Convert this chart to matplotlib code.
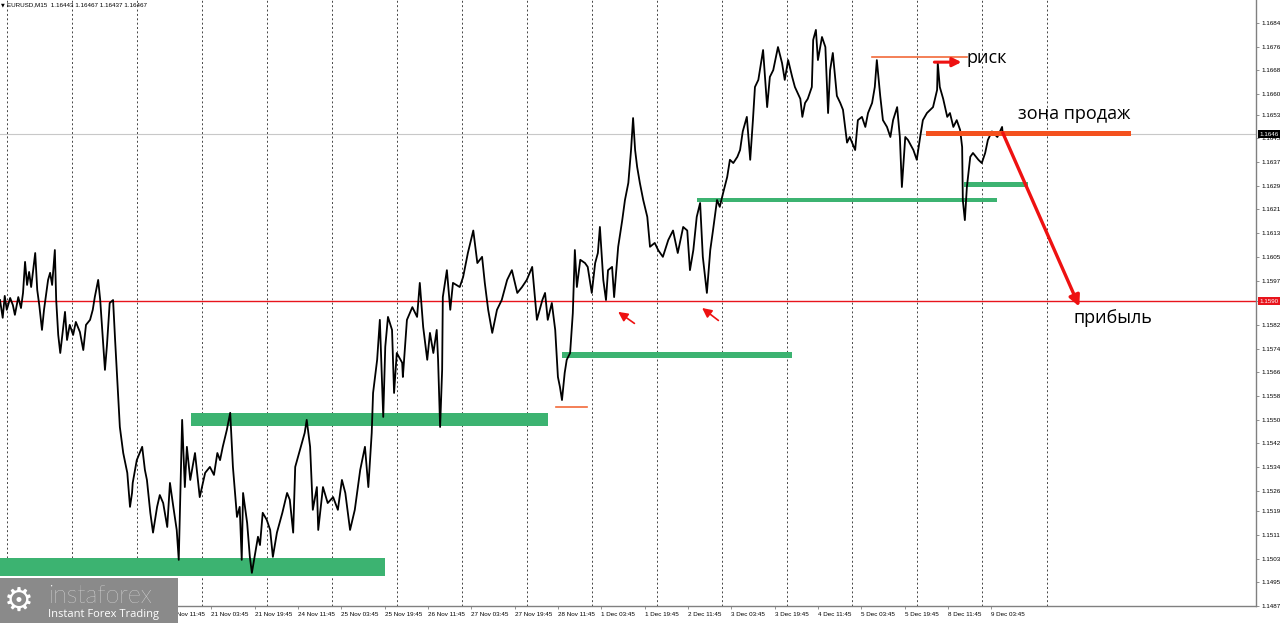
import numpy as np
import matplotlib.pyplot as plt
from matplotlib.patches import Rectangle

# EURUSD M15 close: bar index and price
bars = [0, 4, 7, 10, 15, 19, 22, 27, 31, 34, 37, 40, 43, 46, 49, 52, 55, 58, 62, 65,
        68, 71, 74, 77, 81, 83, 86, 89, 92, 96, 99, 103, 108, 112, 118, 123, 127, 133, 137, 140,
        145, 148, 152, 155, 158, 162, 167, 170, 173, 177, 182, 188, 192, 195, 196, 202, 210, 214, 217, 222,
        226, 232, 236, 241, 247, 251, 256, 261, 264, 269, 273, 276, 281, 288, 295, 303, 310, 316, 321, 325,
        329, 335, 340, 344, 350, 354, 357, 359, 365, 369, 372, 377, 381, 384, 388, 394, 399, 403, 409, 417,
        424, 428, 433, 436, 443, 450, 453, 458, 462, 468, 470, 477, 484, 492, 499, 505, 510, 517, 524, 532,
        539, 544, 549, 551, 557, 561, 566, 569, 573, 579, 582, 586, 594, 595, 601, 609, 616, 620, 625, 631,
        635, 640, 645, 647, 650, 653, 654, 660, 665, 669, 679, 684, 691, 699, 705, 712, 716, 721, 727, 734,
        741, 749, 756, 764, 771, 778, 786, 793, 801, 805, 809, 815, 820, 824, 827, 830, 834, 837, 842, 846,
        849, 852, 857, 864, 868, 874, 879, 883, 886, 891, 895, 898, 904, 907, 913, 919, 923, 928, 932, 935,
        938, 941, 945, 950, 956, 960, 967, 972, 979, 987, 994, 1001, 1009, 1015, 1019, 1024, 1029, 1034, 1038, 1044,
        1049, 1053, 1059, 1063, 1068, 1074, 1078, 1083, 1089, 1093, 1097, 1103, 1108, 1112, 1115, 1120, 1127, 1133, 1137, 1142,
        1149, 1155, 1159, 1164, 1170, 1174, 1182, 1185, 1189, 1193, 1199, 1201, 1205, 1208, 1214, 1219, 1223, 1226, 1230, 1236,
        1241, 1245, 1251, 1255, 1263, 1267, 1273, 1278, 1282, 1288, 1292, 1295, 1300, 1304, 1310, 1315, 1319, 1325, 1329, 1332,
        1337, 1341, 1349, 1354, 1359, 1363, 1369, 1374, 1378, 1384, 1385, 1388, 1393, 1399, 1403, 1408, 1413, 1418, 1421, 1422,
        1425, 1428, 1433, 1437, 1445, 1450, 1455, 1459, 1465, 1473, 1480, 1481]
close = [1.15904, 1.15844, 1.15918, 1.15871, 1.15911, 1.15887, 1.15854, 1.15914, 1.15877, 1.15928,
         1.16033, 1.15955, 1.15999, 1.15948, 1.16005, 1.16063, 1.15938, 1.15887, 1.15803, 1.15871,
         1.15921, 1.15972, 1.15996, 1.15955, 1.16073, 1.15904, 1.15786, 1.15725, 1.15786, 1.15864,
         1.15769, 1.15820, 1.15786, 1.15830, 1.15796, 1.15735, 1.15820, 1.15837, 1.15871, 1.15914,
         1.15972, 1.15904, 1.15769, 1.15668, 1.15752, 1.15894, 1.15904, 1.15769, 1.15644, 1.15475,
         1.15387, 1.15320, 1.15205, 1.15252, 1.15286, 1.15363, 1.15408, 1.15330, 1.15296, 1.15185,
         1.15118, 1.15205, 1.15245, 1.15218, 1.15137, 1.15286, 1.15205, 1.15127, 1.15026, 1.15499,
         1.15272, 1.15408, 1.15296, 1.15387, 1.15238, 1.15320, 1.15340, 1.15313, 1.15387, 1.15363,
         1.15408, 1.15465, 1.15523, 1.15340, 1.15171, 1.15205, 1.15026, 1.15252, 1.15151, 1.15036,
         1.14982, 1.15049, 1.15104, 1.15076, 1.15185, 1.15161, 1.15127, 1.15036, 1.15118, 1.15185,
         1.15252, 1.15229, 1.15118, 1.15340, 1.15398, 1.15455, 1.15499, 1.15408, 1.15195, 1.15272,
         1.15127, 1.15272, 1.15218, 1.15238, 1.15195, 1.15296, 1.15252, 1.15127, 1.15195, 1.15330,
         1.15408, 1.15272, 1.15455, 1.15590, 1.15702, 1.15837, 1.15509, 1.15746, 1.15847, 1.15803,
         1.15590, 1.15725, 1.15692, 1.15644, 1.15837, 1.15880, 1.15847, 1.15962, 1.15813, 1.15702,
         1.15793, 1.15725, 1.15803, 1.15702, 1.15475, 1.15668, 1.15914, 1.16005, 1.15871, 1.15962,
         1.15948, 1.15982, 1.16063, 1.16139, 1.16029, 1.16050, 1.15962, 1.15871, 1.15793, 1.15871,
         1.15904, 1.15972, 1.16005, 1.15928, 1.15948, 1.15972, 1.16016, 1.15837, 1.15904, 1.15928,
         1.15837, 1.15894, 1.15803, 1.15644, 1.15610, 1.15566, 1.15658, 1.15702, 1.15725, 1.15860,
         1.16073, 1.15948, 1.16040, 1.16029, 1.16016, 1.15928, 1.16029, 1.16063, 1.16151, 1.15972,
         1.15904, 1.16005, 1.16016, 1.15914, 1.16084, 1.16174, 1.16242, 1.16300, 1.16411, 1.16519,
         1.16411, 1.16354, 1.16300, 1.16242, 1.16185, 1.16084, 1.16097, 1.16073, 1.16050, 1.16107,
         1.16139, 1.16063, 1.16151, 1.16139, 1.16005, 1.16073, 1.16185, 1.16232, 1.16050, 1.15928,
         1.16073, 1.16139, 1.16242, 1.16219, 1.16266, 1.16320, 1.16378, 1.16367, 1.16388, 1.16411,
         1.16474, 1.16523, 1.16378, 1.16512, 1.16624, 1.16648, 1.16749, 1.16556, 1.16658, 1.16681,
         1.16759, 1.16705, 1.16648, 1.16715, 1.16658, 1.16624, 1.16584, 1.16523, 1.16570, 1.16584,
         1.16624, 1.16783, 1.16817, 1.16715, 1.16793, 1.16759, 1.16536, 1.16681, 1.16739, 1.16594,
         1.16570, 1.16547, 1.16436, 1.16455, 1.16411, 1.16512, 1.16523, 1.16489, 1.16536, 1.16570,
         1.16624, 1.16715, 1.16594, 1.16512, 1.16489, 1.16455, 1.16512, 1.16556, 1.16455, 1.16286,
         1.16455, 1.16445, 1.16411, 1.16378, 1.16455, 1.16512, 1.16536, 1.16547, 1.16556, 1.16614,
         1.16705, 1.16624, 1.16584, 1.16523, 1.16536, 1.16489, 1.16512, 1.16479, 1.16421, 1.16242,
         1.16174, 1.16286, 1.16388, 1.16401, 1.16378, 1.16367, 1.16401, 1.16445, 1.16474, 1.16455,
         1.16489, 1.16465]

# time axis labels (bar index of each label)
time_ticks = [0, 56, 120, 184, 248, 312, 376, 440, 504, 568, 632, 696,
              760, 824, 888, 952, 1016, 1080, 1144, 1208, 1272, 1336, 1400, 1464]
time_labels = ["17 Nov 2025", "18 Nov 11:45", "19 Nov 03:45", "19 Nov 19:45",
               "20 Nov 11:45", "21 Nov 03:45", "21 Nov 19:45", "24 Nov 11:45",
               "25 Nov 03:45", "25 Nov 19:45", "26 Nov 11:45", "27 Nov 03:45",
               "27 Nov 19:45", "28 Nov 11:45", "1 Dec 03:45", "1 Dec 19:45",
               "2 Dec 11:45", "3 Dec 03:45", "3 Dec 19:45", "4 Dec 11:45",
               "5 Dec 03:45", "5 Dec 19:45", "8 Dec 11:45", "9 Dec 03:45"]
day_lines = list(range(10, 1550, 96))

price_labels = ["1.1487", "1.1495", "1.1503", "1.1511", "1.1519", "1.1526", "1.1534",
                "1.1542", "1.1550", "1.1558", "1.1566", "1.1574", "1.1582", "1.1590",
                "1.1597", "1.1605", "1.1613", "1.1621", "1.1629", "1.1637", "1.1645",
                "1.1653", "1.1660", "1.1668", "1.1676", "1.1684"]
price_ticks = [float(s) for s in price_labels]

# support zones: (start bar, end bar, low, high)
zones = [(0, 569, 1.14972, 1.15033),
         (282, 809, 1.15479, 1.15523),
         (830, 1170, 1.15708, 1.15729),
         (1029, 1473, 1.16234, 1.16250),
         (1424, 1518, 1.16286, 1.16303)]
level_red = 1.1590
last_price = 1.16465
risk_level = (1288, 1428, 1.16724)
low_mark = (821, 867, 1.15543)
sell_zone = (1371, 1666, 1.16467)

green = "#3cb371"
orange = "#f4511e"
red = "#ee1111"
tick_font = dict(fontsize=4.5, family="Liberation Sans")

fig = plt.figure(figsize=(12.8, 6.23), dpi=100, facecolor="white")
ax = fig.add_axes([0, 17 / 623, 1256 / 1280, 606 / 623])

for d in day_lines:
    ax.axvline(d, color="#444444", lw=0.7, ls=(0, (2, 2.5)), zorder=1)

ax.axhline(level_red, color="#e8141c", lw=1.0, zorder=2)
ax.axhline(last_price, color="#c8c8c8", lw=0.8, zorder=1)

for x0, x1, lo, hi in zones:
    ax.fill_between([x0, x1], lo, hi, color=green, lw=0, zorder=2)

ax.plot(bars, close, color="black", lw=1.3, zorder=3)

ax.plot(risk_level[:2], [risk_level[2]] * 2, color="#f26a3a", lw=1.2, zorder=4)
ax.plot(low_mark[:2], [low_mark[2]] * 2, color="#f26a3a", lw=1.2, zorder=4)
ax.plot(sell_zone[:2], [sell_zone[2]] * 2, color=orange, lw=3.6, zorder=4)

ax.annotate("", xy=(1420, 1.16708), xytext=(1380, 1.16708),
            arrowprops=dict(arrowstyle="-|>", color=red, lw=2.2, mutation_scale=13,
                            shrinkA=0, shrinkB=0), zorder=5)
ax.annotate("", xy=(1594, 1.15882), xytext=(1481, 1.16469),
            arrowprops=dict(arrowstyle="-|>", color=red, lw=2.4, mutation_scale=16,
                            shrinkA=0, shrinkB=0), zorder=5)
for tip, tail in [((913, 1.15864), (937, 1.15825)), ((1037, 1.15877), (1061, 1.15835))]:
    ax.annotate("", xy=tip, xytext=tail,
                arrowprops=dict(arrowstyle="-|>", color=red, lw=1.2, mutation_scale=14,
                                shrinkA=0, shrinkB=0), zorder=5)

txt = dict(fontsize=13, family="Open Sans", va="center", ha="left", zorder=6)
ax.text(1428, 1.16722, "риск", **txt)
ax.text(1504, 1.16533, "зона продаж", **txt)
ax.text(1585, 1.15844, "прибыль", **txt)

ax.set_xlim(0, 1855)
ax.set_ylim(1.1487, 1.16918)

for s in ["top", "left"]:
    ax.spines[s].set_visible(False)
for s in ["right", "bottom"]:
    ax.spines[s].set_color("#808080")
    ax.spines[s].set_linewidth(1.0)

ax.yaxis.tick_right()
ax.set_yticks(price_ticks, price_labels, **tick_font)
ax.set_xticks(time_ticks, time_labels, ha="left", **tick_font)
ax.tick_params(axis="both", direction="out", length=2.5, width=0.6, color="#808080", pad=1.5)

# price boxes on the scale
for price, label, fc in [(level_red, "1.1590", "#e8141c"), (last_price, "1.1646", "black")]:
    ax.text(1.003, price, label, transform=ax.get_yaxis_transform(), color="white",
            va="center", ha="left", clip_on=False, zorder=7,
            bbox=dict(boxstyle="square,pad=0.25", fc=fc, ec="none"), **tick_font)

# header
fig.text(1 / 1280, 1 - 5 / 623, "▼", fontsize=3.5, va="center")
fig.text(7 / 1280, 1 - 5 / 623, "EURUSD,M15  1.16443 1.16467 1.16437 1.16467",
         va="center", **tick_font)

# watermark logo
fig.add_artist(Rectangle((0, 0), 178 / 1280, 45 / 623, transform=fig.transFigure,
                         color="#8a8a8a", lw=0, zorder=5))
fig.text(4 / 1280, 22 / 623, "⚙", fontsize=24, color="white", va="center", zorder=6)
fig.text(48 / 1280, 27 / 623, "instaforex", fontsize=18, color="white", family="Lato",
         weight="light", va="center", zorder=6)
fig.text(48 / 1280, 9 / 623, "Instant Forex Trading", fontsize=8, color="white",
         family="Open Sans", va="center", zorder=6)

fig.savefig("out.png", dpi=100, facecolor="white")
